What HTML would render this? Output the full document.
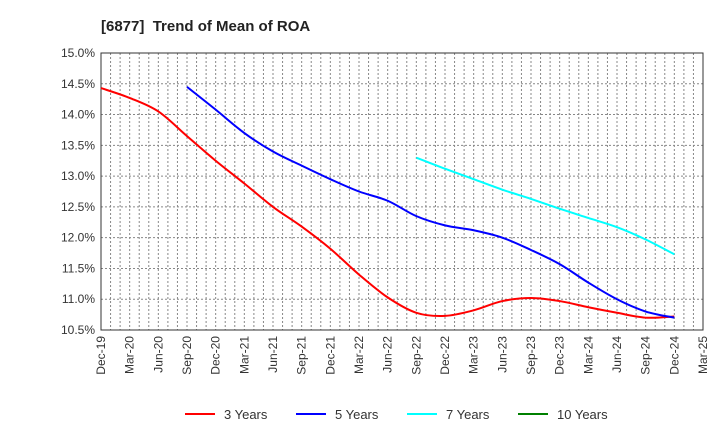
<!DOCTYPE html>
<html><head><meta charset="utf-8"><style>
body{margin:0;background:#fff;font-family:"Liberation Sans",sans-serif}
svg text{font-family:"Liberation Sans",sans-serif}
</style></head><body>
<svg id="c" width="720" height="440"></svg>
<script>
const xLabels=["Dec-19","Mar-20","Jun-20","Sep-20","Dec-20","Mar-21","Jun-21","Sep-21","Dec-21","Mar-22","Jun-22","Sep-22","Dec-22","Mar-23","Jun-23","Sep-23","Dec-23","Mar-24","Jun-24","Sep-24","Dec-24","Mar-25"];
const yTicks=[10.5,11.0,11.5,12.0,12.5,13.0,13.5,14.0,14.5,15.0];
const s3Start=0;
const s3=[14.43,14.27,14.05,13.65,13.25,12.88,12.50,12.18,11.82,11.40,11.03,10.78,10.73,10.82,10.97,11.02,10.97,10.87,10.78,10.70,10.72];
const s5Start=3;
const s5=[14.45,14.08,13.70,13.40,13.17,12.95,12.75,12.60,12.35,12.20,12.12,12.00,11.80,11.57,11.27,11.00,10.80,10.70];
const s7Start=11;
const s7=[13.30,13.12,12.95,12.78,12.63,12.47,12.32,12.17,11.97,11.73];
const s10=[];
const L=101,R=703,T=53,B=330;
const X=i=>L+(R-L)*i/(xLabels.length-1);
const Y=v=>B-(B-T)*(v-10.5)/4.5;
const svg=document.getElementById('c');
const NS='http://www.w3.org/2000/svg';
function mk(tag,attrs,parent){const e=document.createElementNS(NS,tag);for(const k in attrs)e.setAttribute(k,attrs[k]);(parent||svg).appendChild(e);return e;}
let t=mk('text',{x:101,y:31,'font-size':15,'font-weight':'bold',fill:'#222'});


t.textContent='[6877]\u00a0\u00a0Trend of Mean of ROA';
const g=mk('g',{stroke:'#888','stroke-width':1,'stroke-dasharray':'2,2'});


const nm=(xLabels.length-1)*3;
for(let m=1;m<nm;m++){const x=L+(R-L)*m/nm;mk('line',{x1:x,x2:x,y1:T,y2:B},g);}
yTicks.forEach(v=>{if(v>10.5&&v<15)mk('line',{x1:L,x2:R,y1:Y(v),y2:Y(v)},g);});
let fr=mk('rect',{x:L,y:T,width:R-L,height:B-T,fill:'none',stroke:'#333'});


yTicks.forEach(v=>{const e=mk('text',{x:L-6,y:Y(v)+4,'text-anchor':'end','font-size':12,fill:'#333'});


e.textContent=v.toFixed(1)+'%';});
xLabels.forEach((l,i)=>{const x=X(i);const e=mk('text',{x:x+4,y:B+6,'text-anchor':'end','font-size':12,fill:'#333',transform:`rotate(-90 ${x+4} ${B+6})`});


e.textContent=l;});
function path(vals,start){const p=vals.map((v,i)=>[X(start+i),Y(v)]);let d=`M${p[0][0]},${p[0][1]}`;
for(let i=0;i<p.length-1;i++){const p0=p[i-1]||p[i],p1=p[i],p2=p[i+1],p3=p[i+2]||p2;
d+=`C${p1[0]+(p2[0]-p0[0])/6},${p1[1]+(p2[1]-p0[1])/6} ${p2[0]-(p3[0]-p1[0])/6},${p2[1]-(p3[1]-p1[1])/6} ${p2[0]},${p2[1]}`;}return d;}
[[s3,s3Start,'#ff0000','series-3-years'],[s5,s5Start,'#0000ff','series-5-years'],[s7,s7Start,'#00ffff','series-7-years']].forEach(([v,s,c,n])=>{
const e=mk('path',{d:path(v,s),fill:'none',stroke:c,'stroke-width':2});

});
const leg=[['3 Years','#ff0000',185],['5 Years','#0000ff',296],['7 Years','#00ffff',407],['10 Years','#008000',518]];
leg.forEach(([l,c,x])=>{const gg=mk('g',{});


mk('line',{x1:x,x2:x+30,y1:414,y2:414,stroke:c,'stroke-width':2},gg);
const e=mk('text',{x:x+39,y:419,'font-size':13,fill:'#333'},gg);e.textContent=l;});
</script>
</body></html>
